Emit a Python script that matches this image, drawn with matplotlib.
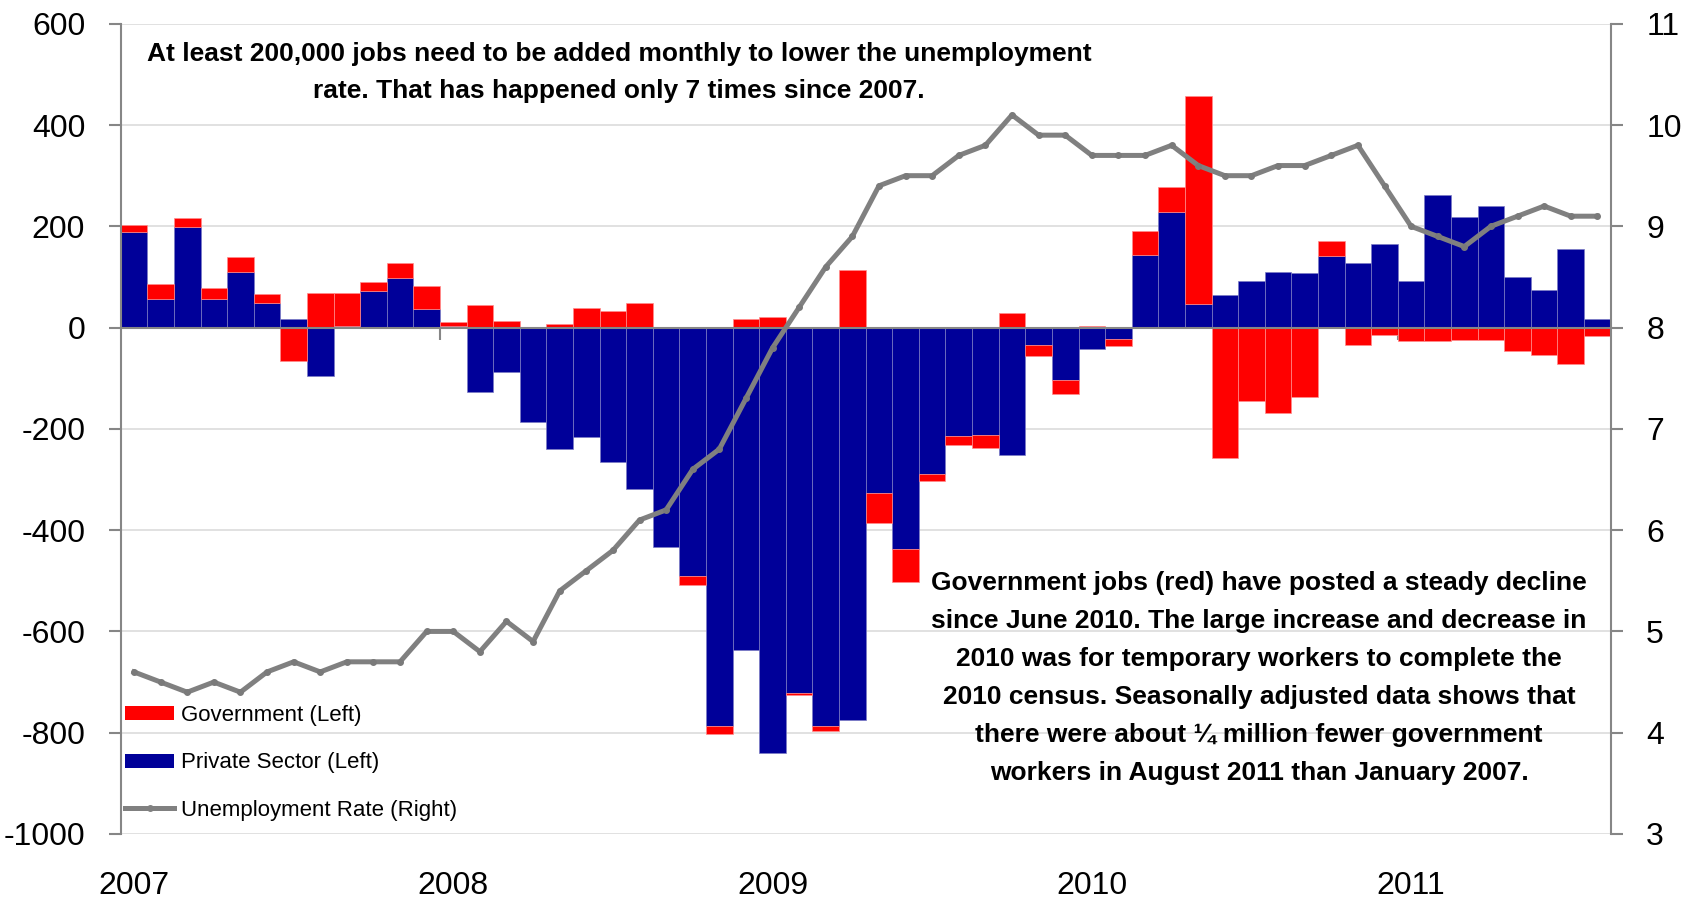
import matplotlib
matplotlib.use("Agg")
import matplotlib.pyplot as plt
from matplotlib.lines import Line2D
from matplotlib.patches import Patch
import numpy as np
import pandas as pd

# monthly job changes (thousands), Jan 2007 - Aug 2011
months = pd.date_range("2007-01-01", periods=56, freq="MS")
years = ["2007", "2008", "2009", "2010", "2011"]

private = [189, 57, 199, 57, 110, 49, 16, -95, 3, 73, 97, 37,
           3, -128, -88, -186, -240, -217, -265, -318, -434, -490, -786, -636,
           -841, -722, -786, -774, -327, -438, -289, -215, -213, -251, -35, -103,
           -43, -22, 143, 229, 47, 64, 93, 109, 108, 142, 128, 166,
           93, 261, 218, 240, 99, 74, 155, 16]
government = [14, 30, 18, 21, 30, 17, -66, 68, 65, 18, 30, 46,
              9, 44, 14, 0, 7, 39, 33, 49, 0, -19, -16, 17,
              20, -4, -10, 113, -58, -64, -13, -17, -24, 28, -21, -28,
              3, -14, 48, 48, 411, -258, -144, -169, -138, 29, -35, -14,
              -26, -26, -25, -24, -47, -55, -71, -17]
unemployment = [4.6, 4.5, 4.4, 4.5, 4.4, 4.6, 4.7, 4.6, 4.7, 4.7, 4.7, 5.0,
                5.0, 4.8, 5.1, 4.9, 5.4, 5.6, 5.8, 6.1, 6.2, 6.6, 6.8, 7.3,
                7.8, 8.2, 8.6, 8.9, 9.4, 9.5, 9.5, 9.7, 9.8, 10.1, 9.9, 9.9,
                9.7, 9.7, 9.7, 9.8, 9.6, 9.5, 9.5, 9.6, 9.6, 9.7, 9.8, 9.4,
                9.0, 8.9, 8.8, 9.0, 9.1, 9.2, 9.1, 9.1]

left_ticks = [-1000, -800, -600, -400, -200, 0, 200, 400, 600]
right_ticks = [3, 4, 5, 6, 7, 8, 9, 10, 11]

NAVY = "#000099"
RED = "#FF0000"
GREY = "#808080"
AXIS = "#868686"
FONT = ["Liberation Sans Narrow", "Liberation Sans", "DejaVu Sans"]

plt.rcParams["font.family"] = FONT

fig = plt.figure(figsize=(16.94, 9.07), dpi=100)
ax = fig.add_axes([0.07125, 0.0805, 0.9508 - 0.07125, 0.9738 - 0.0805])

x = np.arange(len(months))
priv = np.array(private, dtype=float)
gov = np.array(government, dtype=float)
# excel-style stacking: same-sign values stack, opposite signs start at zero
gov_bottom = np.where(np.sign(gov) == np.sign(priv), priv, 0)

bp = ax.bar(x, priv, width=1.0, align="edge", color=NAVY,
            edgecolor="#7c7cc4", linewidth=0.5, zorder=2)
bg = ax.bar(x, gov, bottom=gov_bottom, width=1.0, align="edge", color=RED,
            edgecolor="#ff8c8c", linewidth=0.5, zorder=2)

ax.set_xlim(0, len(months))
ax.set_ylim(-1000, 600)
ax.set_yticks(left_ticks)
ax.set_yticklabels([str(t) for t in left_ticks])
ax.yaxis.grid(True, color="#d9d9d9", linewidth=1.1, zorder=0)
ax.set_axisbelow(True)

ax.spines["bottom"].set_position(("data", 0))
ax.spines["bottom"].set_zorder(3)
for s in ["top", "right"]:
    ax.spines[s].set_visible(False)
for s in ["left", "bottom"]:
    ax.spines[s].set_color(AXIS)
    ax.spines[s].set_linewidth(1.5)

ax.set_xticks([12, 24, 36, 48])
ax.set_xticklabels([])
ax.tick_params(axis="x", direction="out", length=8.6, width=1.5, color=AXIS)
ax.tick_params(axis="y", direction="out", length=8.6, width=1.5, color=AXIS,
               labelsize=23, pad=17)

for i, yr in enumerate(years):
    ax.text(12 * i + 0.5, -0.064, yr, transform=ax.get_xaxis_transform(),
            ha="center", va="center", fontsize=23)

ax2 = ax.twinx()
line, = ax2.plot(x + 0.5, unemployment, color=GREY, linewidth=3.6,
                 marker="o", markersize=4, markerfacecolor="#7a7a7a",
                 markeredgecolor="#7a7a7a", solid_joinstyle="round", zorder=5)
ax2.set_ylim(3, 11)
ax2.set_yticks(right_ticks)
for s in ["top", "left", "bottom"]:
    ax2.spines[s].set_visible(False)
ax2.spines["right"].set_color(AXIS)
ax2.spines["right"].set_linewidth(1.5)
ax2.tick_params(axis="y", direction="out", length=8.6, width=1.5, color=AXIS,
                labelsize=23, pad=17)

handles = [Patch(facecolor=RED, edgecolor="none"),
           Patch(facecolor=NAVY, edgecolor="none"),
           Line2D([], [], color=GREY, linewidth=3.6, marker="o", markersize=4)]
labels = ["Government (Left)", "Private Sector (Left)", "Unemployment Rate (Right)"]
leg = ax2.legend(handles, labels, loc="lower left", bbox_to_anchor=(-0.006, 0.0),
                 frameon=False, fontsize=16, handlelength=2.2, handleheight=0.6,
                 handletextpad=0.3, labelspacing=1.18, borderaxespad=0.2)

bold = dict(fontweight="bold", fontsize=19, ha="center", va="center",
            multialignment="center")
fig.text(0.3655, 0.920,
         "At least 200,000 jobs need to be added monthly to lower the unemployment\n"
         "rate. That has happened only 7 times since 2007.",
         linespacing=1.68, **bold)
fig.text(0.7433, 0.2523,
         "Government jobs (red) have posted a steady decline\n"
         "since June 2010. The large increase and decrease in\n"
         "2010 was for temporary workers to complete the\n"
         "2010 census. Seasonally adjusted data shows that\n"
         "there were about \u00bc million fewer government\n"
         "workers in August 2011 than January 2007.",
         linespacing=1.74, **bold)

fig.savefig("out.png", dpi=100)
